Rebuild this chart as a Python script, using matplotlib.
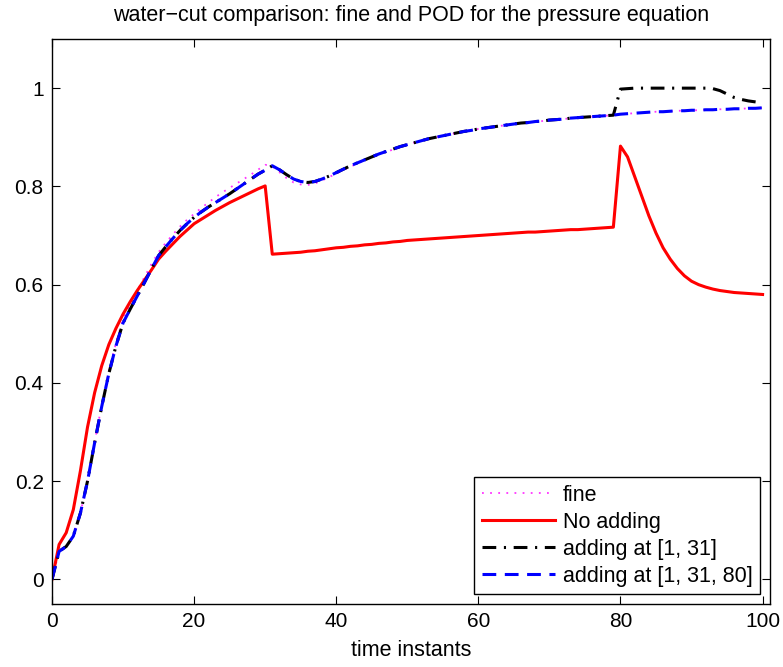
import numpy as np
import matplotlib
matplotlib.use('Agg')
import matplotlib.pyplot as plt

plt.rcParams['font.family'] = ['Liberation Sans', 'DejaVu Sans']

t = np.arange(0, 101)

# water-cut values, one per time instant
fine = [0.0, 0.057, 0.067, 0.088, 0.135, 0.2, 0.28, 0.355, 0.423, 0.481,
        0.53, 0.56, 0.588, 0.615, 0.642, 0.666, 0.685, 0.702, 0.718, 0.732,
        0.744, 0.756, 0.767, 0.778, 0.788, 0.797, 0.806, 0.815, 0.824, 0.834,
        0.844, 0.841, 0.829, 0.817, 0.808, 0.804, 0.803, 0.806, 0.812, 0.819,
        0.826, 0.833, 0.84, 0.847, 0.853, 0.859, 0.865, 0.87, 0.875, 0.88,
        0.885, 0.889, 0.893, 0.897, 0.9, 0.903, 0.906, 0.909, 0.912, 0.914,
        0.917, 0.919, 0.921, 0.923, 0.925, 0.927, 0.929, 0.93, 0.932, 0.933,
        0.935, 0.936, 0.937, 0.939, 0.94, 0.941, 0.942, 0.943, 0.944, 0.945,
        0.947, 0.948, 0.949, 0.95, 0.951, 0.952, 0.952, 0.953, 0.954, 0.954,
        0.955, 0.955, 0.956, 0.956, 0.957, 0.957, 0.958, 0.958, 0.959, 0.959,
        0.96]

pod_1_31_80 = [0.0, 0.057, 0.067, 0.088, 0.135, 0.2, 0.278, 0.352, 0.419, 0.475,
               0.522, 0.55, 0.577, 0.604, 0.632, 0.659, 0.677, 0.694, 0.71, 0.724,
               0.737, 0.748, 0.758, 0.767, 0.776, 0.785, 0.795, 0.805, 0.815, 0.825,
               0.833, 0.842, 0.834, 0.824, 0.815, 0.81, 0.808, 0.81, 0.815, 0.821,
               0.828, 0.835, 0.842, 0.848, 0.854, 0.86, 0.866, 0.871, 0.876, 0.881,
               0.885, 0.889, 0.893, 0.897, 0.9, 0.903, 0.906, 0.909, 0.912, 0.914,
               0.917, 0.919, 0.921, 0.923, 0.925, 0.927, 0.929, 0.93, 0.932, 0.933,
               0.935, 0.936, 0.937, 0.939, 0.94, 0.941, 0.942, 0.943, 0.944, 0.945,
               0.947, 0.948, 0.949, 0.95, 0.951, 0.952, 0.952, 0.953, 0.954, 0.954,
               0.955, 0.955, 0.956, 0.956, 0.957, 0.957, 0.958, 0.958, 0.959, 0.959,
               0.96]

pod_1_31 = pod_1_31_80[:80] + [
    0.998, 0.999, 1.0, 1.0, 1.0, 1.0, 1.0, 1.0, 1.0, 1.0,
    1.0, 1.0, 1.0, 0.999, 0.995, 0.988, 0.981, 0.977, 0.974, 0.972,
    0.97]

no_adding = [0.0, 0.071, 0.095, 0.142, 0.221, 0.31, 0.38, 0.435, 0.478, 0.511,
             0.54, 0.565, 0.588, 0.609, 0.63, 0.652, 0.668, 0.683, 0.698, 0.711,
             0.724, 0.733, 0.742, 0.751, 0.759, 0.767, 0.774, 0.781, 0.788, 0.795,
             0.801, 0.662, 0.663, 0.664, 0.665, 0.666, 0.668, 0.669, 0.671, 0.673,
             0.675, 0.676, 0.678, 0.679, 0.681, 0.682, 0.684, 0.685, 0.687, 0.688,
             0.69, 0.691, 0.692, 0.693, 0.694, 0.695, 0.696, 0.697, 0.698, 0.699,
             0.7, 0.701, 0.702, 0.703, 0.704, 0.705, 0.706, 0.707, 0.707, 0.708,
             0.709, 0.71, 0.711, 0.712, 0.712, 0.713, 0.714, 0.715, 0.716, 0.717,
             0.882, 0.86, 0.82, 0.78, 0.74, 0.705, 0.675, 0.652, 0.633, 0.618,
             0.607, 0.6, 0.595, 0.591, 0.588, 0.586, 0.584, 0.583, 0.582, 0.581,
             0.58]

fig = plt.figure(figsize=(7.83, 6.67), dpi=100)
ax = fig.add_axes([0.0664, 0.0945, 0.9166, 0.847])

ax.plot(t, fine, color='#ff33ff', linestyle=(0, (1, 3.5)), linewidth=1.3, label='fine')
ax.plot(t, no_adding, color='red', linestyle='-', linewidth=2.2, label='No adding')
ax.plot(t, pod_1_31, color='black', linestyle=(0, (4.5, 2.5, 0.7, 2.5)), linewidth=2.2, label='adding at [1, 31]')
ax.plot(t, pod_1_31_80, color='blue', linestyle=(0, (4.5, 2.8)), linewidth=2.2, label='adding at [1, 31, 80]')

ax.set_xlim(0, 101)
ax.set_ylim(-0.05, 1.1)
ax.set_xticks([0, 20, 40, 60, 80, 100])
ax.set_yticks([0, 0.2, 0.4, 0.6, 0.8, 1])
ax.set_yticklabels(['0', '0.2', '0.4', '0.6', '0.8', '1'])
ax.tick_params(direction='in', top=True, right=True, length=6, labelsize=15, pad=6)
for s in ax.spines.values():
    s.set_linewidth(1.0)

ax.set_xlabel('time instants', fontsize=15.5, labelpad=6)
ax.set_title('water\u2212cut comparison: fine and POD for the pressure equation', fontsize=15.5, pad=13)

leg = ax.legend(loc='lower right', fontsize=15.5, handlelength=3.4, fancybox=False,
                framealpha=1, edgecolor='black', borderaxespad=0.45,
                labelspacing=0.28, handletextpad=0.35, borderpad=0.35)
leg.get_frame().set_linewidth(1.0)

fig.savefig('out.png')
